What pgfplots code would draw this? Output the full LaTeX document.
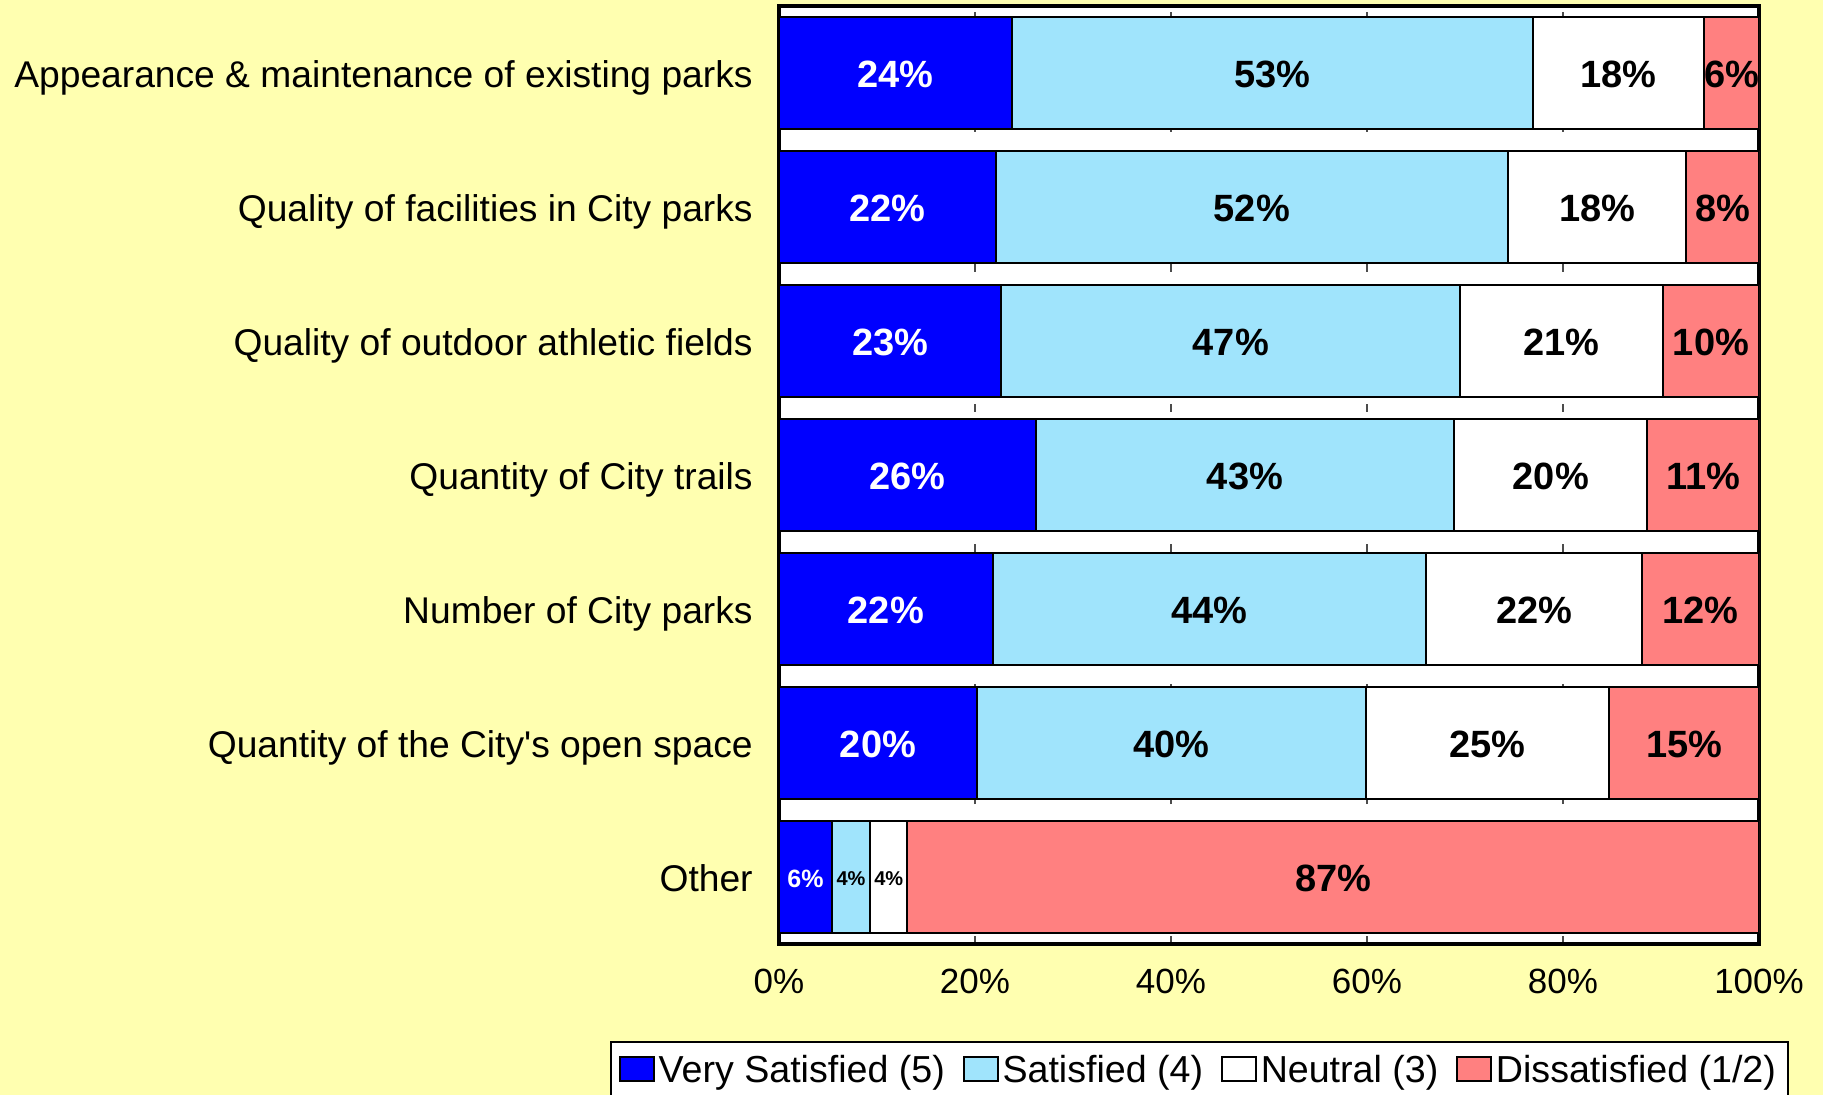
\documentclass[border=0pt]{standalone}
\usepackage{pgfplots}
\pgfplotsset{compat=1.18}
\usepackage{fontspec}
\setmainfont{Liberation Sans}
\setmonofont{Liberation Sans}
\newcommand{\sq}{{\ttfamily'}}
\definecolor{bgyellow}{RGB}{255,255,176}
\definecolor{vsblue}{RGB}{0,0,255}
\definecolor{sblue}{RGB}{160,228,252}
\definecolor{dpink}{RGB}{255,128,128}
\pgfplotsset{
  geom/.style={at={(389.5pt,-3pt)}, anchor=north west,
    scale only axis, width=490pt, height=469pt,
    xmin=0, xmax=100, ymin=-0.5, ymax=6.5},
  lbl/.style={only marks, mark=*, mark size=0pt, mark options={draw=none, fill=none},
    point meta=explicit symbolic, nodes near coords={\pgfplotspointmeta\%},
    every node near coord/.style={anchor=center, inner sep=0pt, yshift=-0.8pt, text=#1}},
}
\begin{document}
\begin{tikzpicture}
\fill[bgyellow] (0,0) rectangle (911.5pt,-547.5pt);
\path[use as bounding box] (0,0) rectangle (911.5pt,-547.5pt);
\begin{axis}[
  geom,
  xbar stacked, bar width=0.84,
  axis line style={line width=2pt},
  axis background/.style={fill=white},
  xtick={0,20,...,100}, xticklabels={0\%,20\%,40\%,60\%,80\%,100\%},
  ytick={0,...,6},
  yticklabels={Other, Quantity of the City\sq s open space, Number of City parks, Quantity of City trails, Quality of outdoor athletic fields, Quality of facilities in City parks, Appearance \& maintenance of existing parks},
  major tick length=0pt,
  xmajorgrids, grid style={black!70, line width=0.6pt, dash pattern=on 4pt off 10pt},
  xticklabel style={font=\fontsize{17.5}{20}\selectfont, anchor=north, inner sep=0pt, yshift=-12.5pt},
  yticklabel style={font=\fontsize{18.6}{22}\selectfont, anchor=base east, inner sep=0pt, xshift=-13pt, yshift=-7.2pt},
  legend columns=4,
  legend image code/.code={\draw[#1,draw=black,line width=0.8pt] (0pt,-5pt) rectangle (17pt,7pt);},
  legend style={at={(-0.1724,-0.1030)}, anchor=north west, draw=black, line width=1pt, fill=white,
    font=\fontsize{18.8}{22}\selectfont, inner xsep=4pt, inner ysep=5pt,
    /tikz/every even column/.append style={column sep=7pt}},
]
\addplot[fill=vsblue, draw=black, line width=1pt] coordinates {
  (5.4,0) (20.2,1) (21.8,2) (26.2,3) (22.7,4) (22.1,5) (23.8,6)
};
\addlegendentry{Very Satisfied (5)}
\addplot[fill=sblue, draw=black, line width=1pt] coordinates {
  (3.9,0) (39.7,1) (44.2,2) (42.7,3) (46.8,4) (52.3,5) (53.1,6)
};
\addlegendentry{Satisfied (4)}
\addplot[fill=white, draw=black, line width=1pt] coordinates {
  (3.8,0) (24.8,1) (22.1,2) (19.7,3) (20.7,4) (18.2,5) (17.5,6)
};
\addlegendentry{Neutral (3)}
\addplot[fill=dpink, draw=black, line width=1pt] coordinates {
  (86.9,0) (15.3,1) (11.9,2) (11.4,3) (9.8,4) (7.4,5) (5.6,6)
};
\addlegendentry{Dissatisfied (1/2)}
\end{axis}
\begin{axis}[geom, hide axis, clip=false]
\addplot[lbl=white, font=\fontsize{19}{22}\selectfont\bfseries] coordinates {
  (10.1,1) [20] (10.9,2) [22] (13.1,3) [26] (11.35,4) [23] (11.05,5) [22] (11.9,6) [24]
};
\addplot[lbl=white, font=\fontsize{12.5}{14}\selectfont\bfseries] coordinates {
  (2.7,0) [6]
};
\addplot[lbl=black, font=\fontsize{19}{22}\selectfont\bfseries] coordinates {
  (40.05,1) [40] (43.9,2) [44] (47.55,3) [43] (46.1,4) [47] (48.25,5) [52] (50.35,6) [53]
  (72.3,1) [25] (77.05,2) [22] (78.75,3) [20] (79.85,4) [21] (83.5,5) [18] (85.65,6) [18]
  (92.35,1) [15] (94.05,2) [12] (94.3,3) [11] (95.1,4) [10] (96.3,5) [8] (97.2,6) [6]
  (56.55,0) [87]
};
\addplot[lbl=black, font=\fontsize{10}{11}\selectfont\bfseries] coordinates {
  (7.35,0) [4] (11.2,0) [4]
};
\end{axis}
\end{tikzpicture}
\end{document}
